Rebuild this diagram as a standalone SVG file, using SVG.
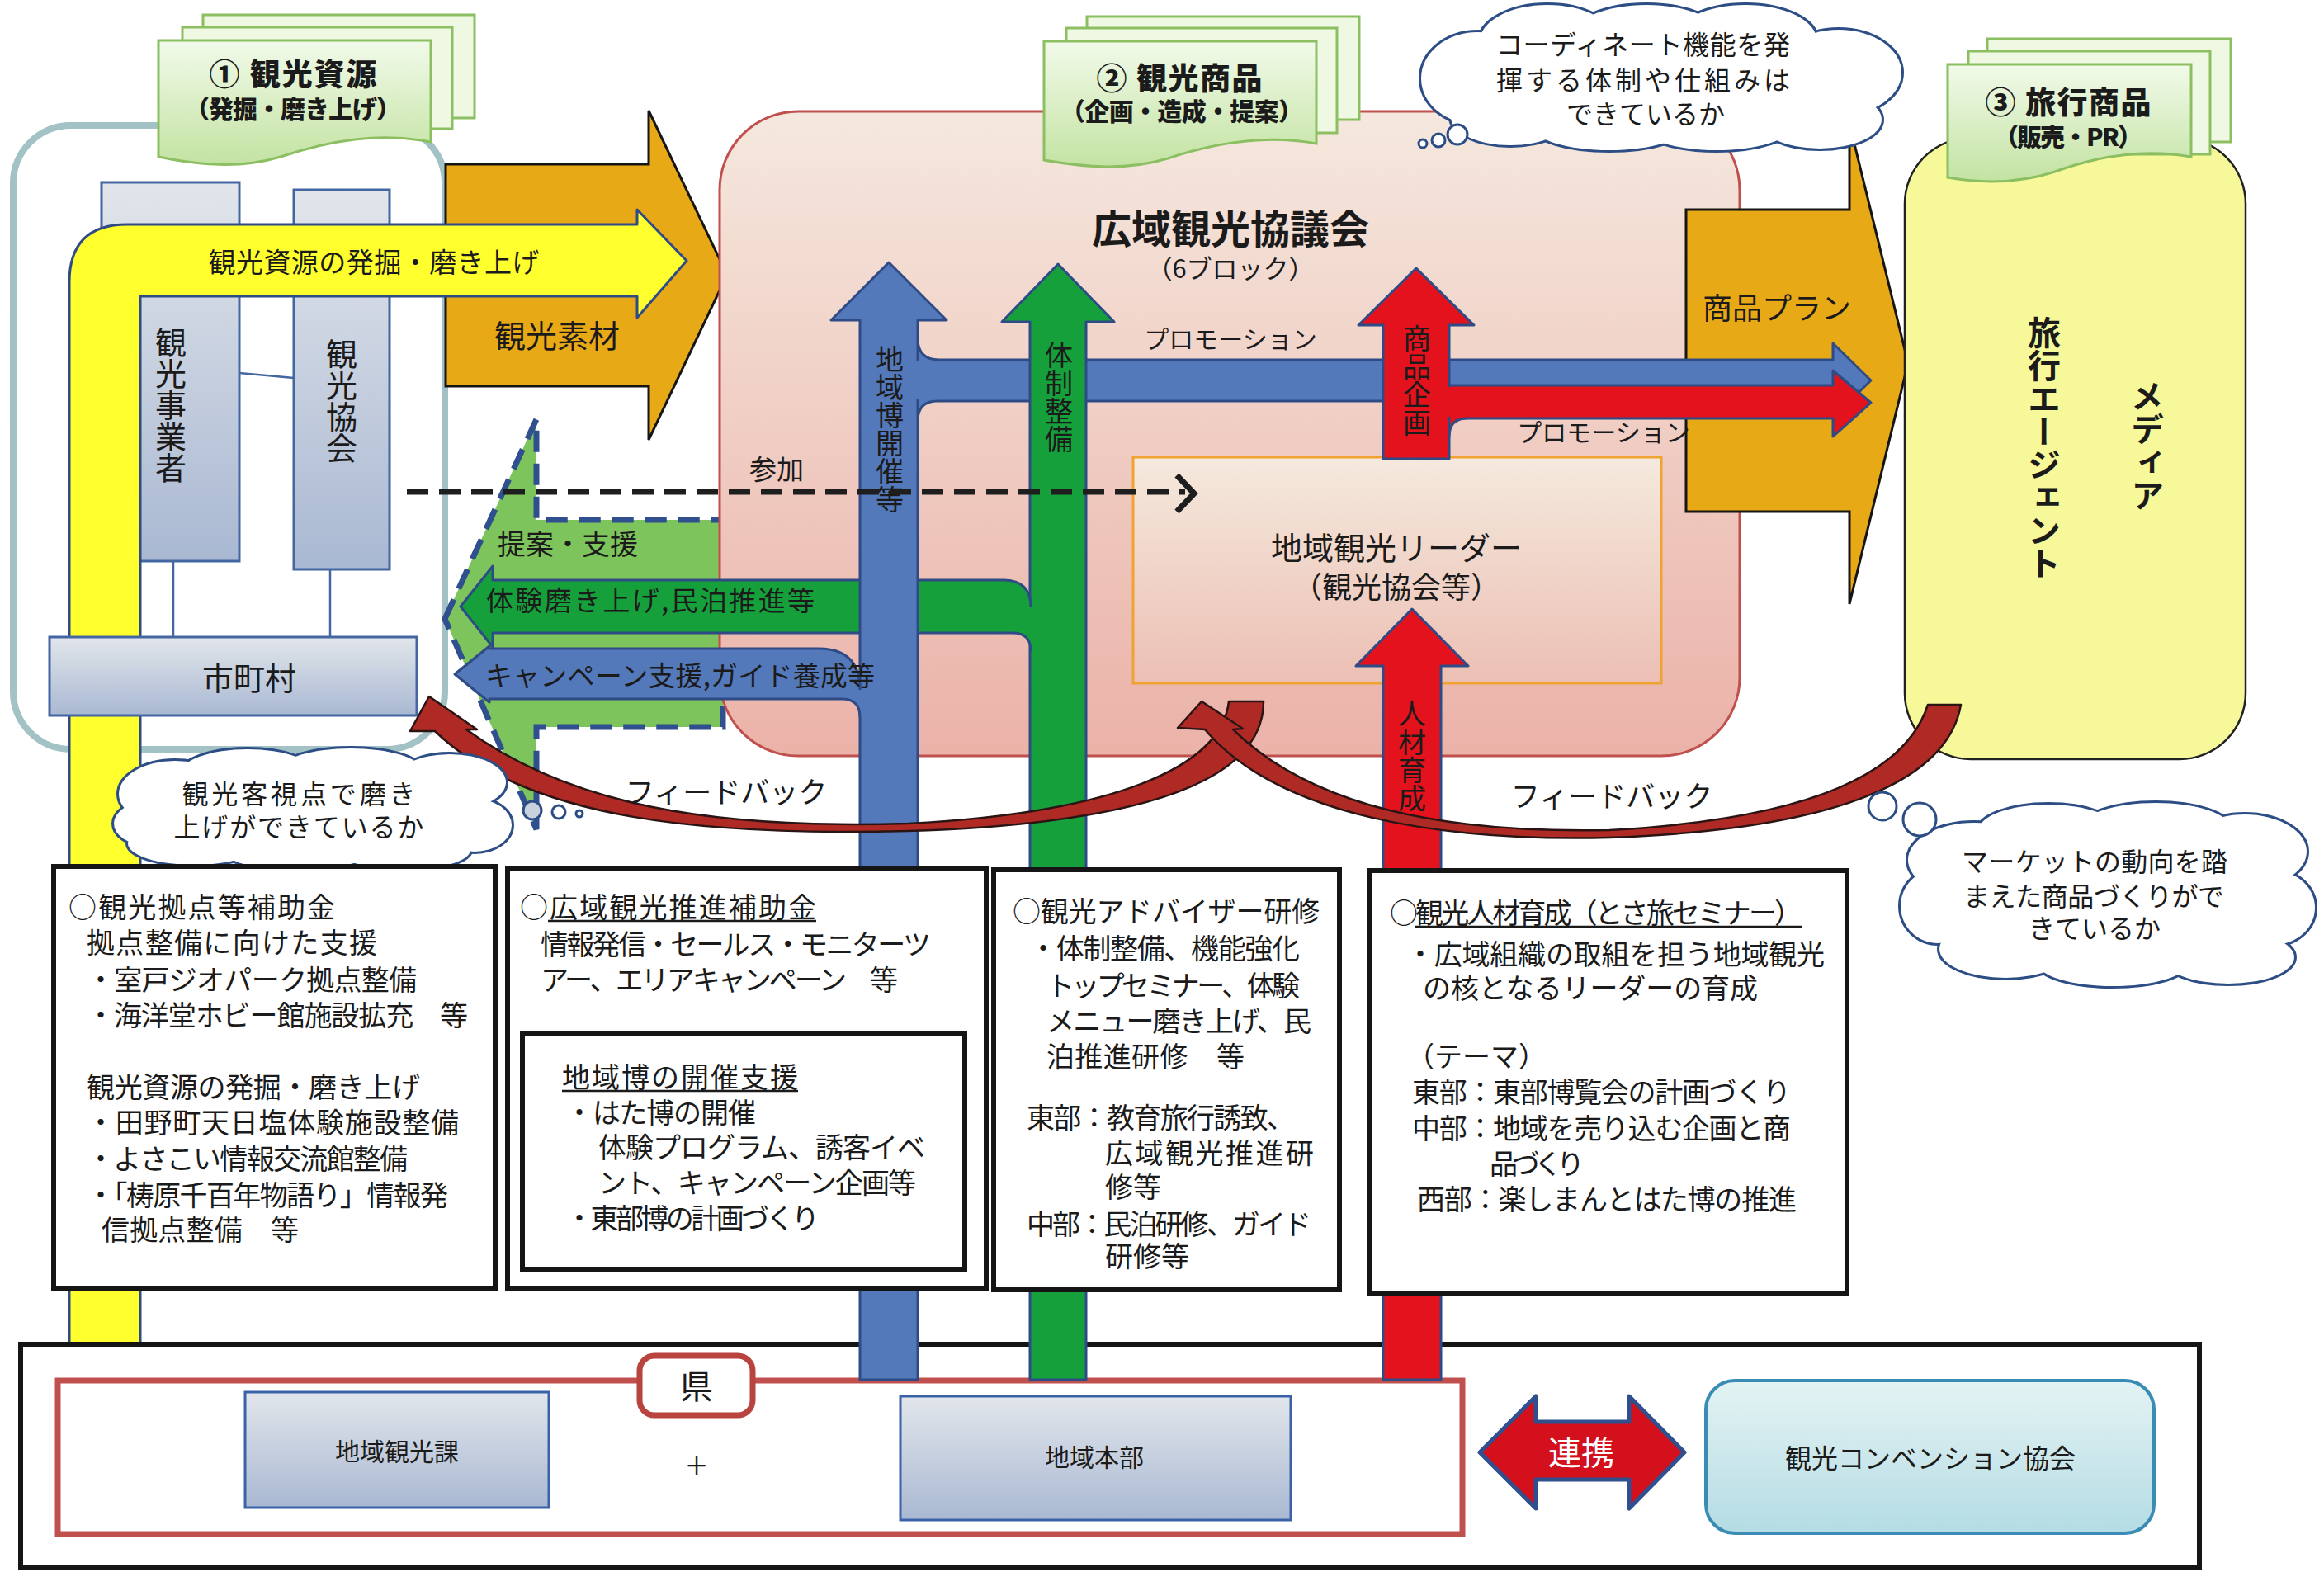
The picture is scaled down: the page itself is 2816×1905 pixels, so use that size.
<svg xmlns="http://www.w3.org/2000/svg" width="2816" height="1905" viewBox="0 0 2816 1905">
<defs>
<linearGradient id="gGray" x1="0" y1="0" x2="0" y2="1"><stop offset="0" stop-color="#e2e6eb"/><stop offset="1" stop-color="#a9b8d2"/></linearGradient>
<linearGradient id="gPink" x1="0" y1="0" x2="0" y2="1"><stop offset="0" stop-color="#f5e8de"/><stop offset="1" stop-color="#ebb2a8"/></linearGradient>
<linearGradient id="gLeader" x1="0" y1="0" x2="0" y2="1"><stop offset="0" stop-color="#f5e9dd"/><stop offset="1" stop-color="#ecbfb4"/></linearGradient>
<linearGradient id="gTab" x1="0" y1="0" x2="0" y2="1"><stop offset="0" stop-color="#f2faea"/><stop offset="1" stop-color="#c3e3a2"/></linearGradient>
<linearGradient id="gConv" x1="0" y1="0" x2="0" y2="1"><stop offset="0" stop-color="#e4f3f3"/><stop offset="1" stop-color="#b4dce4"/></linearGradient>
<g id="cloudA">
<ellipse cx="1790" cy="95" rx="68" ry="56"/><ellipse cx="1875" cy="50" rx="82" ry="44"/><ellipse cx="1995" cy="44" rx="90" ry="38"/><ellipse cx="2115" cy="48" rx="86" ry="42"/><ellipse cx="2228" cy="88" rx="76" ry="52"/><ellipse cx="2205" cy="145" rx="75" ry="35"/><ellipse cx="2080" cy="152" rx="92" ry="30"/><ellipse cx="1950" cy="154" rx="92" ry="28"/><ellipse cx="1830" cy="142" rx="72" ry="34"/><ellipse cx="2010" cy="97" rx="245" ry="68"/>
</g>
<g id="cloudB">
<ellipse cx="212" cy="962" rx="68" ry="40"/><ellipse cx="300" cy="938" rx="82" ry="30"/><ellipse cx="425" cy="933" rx="85" ry="26"/><ellipse cx="545" cy="948" rx="68" ry="34"/><ellipse cx="575" cy="1000" rx="45" ry="32"/><ellipse cx="490" cy="1030" rx="80" ry="24"/><ellipse cx="360" cy="1034" rx="85" ry="20"/><ellipse cx="235" cy="1022" rx="80" ry="26"/><ellipse cx="178" cy="998" rx="40" ry="26"/><ellipse cx="380" cy="983" rx="215" ry="52"/>
</g>
<g id="cloudC">
<ellipse cx="2392" cy="1042" rx="80" ry="45"/><ellipse cx="2482" cy="1007" rx="85" ry="32"/><ellipse cx="2612" cy="1003" rx="90" ry="30"/><ellipse cx="2720" cy="1032" rx="75" ry="45"/><ellipse cx="2755" cy="1100" rx="50" ry="45"/><ellipse cx="2700" cy="1160" rx="80" ry="32"/><ellipse cx="2560" cy="1168" rx="90" ry="27"/><ellipse cx="2430" cy="1150" rx="80" ry="35"/><ellipse cx="2348" cy="1098" rx="45" ry="45"/><ellipse cx="2555" cy="1085" rx="225" ry="80"/>
</g>
</defs>
<style>
text { font-family: "Noto Sans CJK JP", "Noto Sans CJK SC", sans-serif; fill: #1b1b1b; }
.c { text-anchor: middle; dominant-baseline: central; }
.l { dominant-baseline: central; font-size: 34px; }
.v { writing-mode: vertical-rl; text-anchor: middle; }
.b { font-weight: 700; }
.k { font-weight: 900; }
.sheet { fill: #eef8e2; stroke: #8cbf62; stroke-width: 3; }
.front { fill: url(#gTab); stroke: #8cbf62; stroke-width: 3; }
.as { stroke: #2f4b86; stroke-width: 3; stroke-linejoin: round; }
.box { fill: #fff; stroke: #151515; stroke-width: 6; }
.fb { fill: #b02a25; stroke: #2a1414; stroke-width: 2.5; stroke-linejoin: round; }
.bub { fill: #fff; stroke: #2d4d85; stroke-width: 3; }
.ul { stroke: #1b1b1b; stroke-width: 2.5; }
.gr { fill: url(#gGray); stroke: #4467a3; stroke-width: 3; }
</style>
<rect width="2816" height="1905" fill="#fff"/>

<!-- Left area -->
<g id="node-left-area">
<rect x="16" y="152" width="523" height="756" rx="70" fill="#fff" stroke="#a3c2c6" stroke-width="8"/>
</g>
<g id="edge-sozai">
<path d="M540,199 H786 V134 L881,333 L786,533 V468 H540 Z" fill="#e8a917" stroke="#151515" stroke-width="3" stroke-linejoin="miter"/>
<text class="c" x="675" y="404" font-size="38">観光素材</text>
</g>
<g id="node-jigyosha">
<rect class="gr" x="123" y="221" width="167" height="459"/>
<text class="v" x="207" y="491" font-size="38">観光事業者</text>
</g>
<g id="node-kyokai">
<rect class="gr" x="356" y="230" width="116" height="460"/>
<text class="v" x="414" y="486" font-size="38">観光協会</text>
</g>
<path d="M290,452 L356,458 M210,680 V772 M400,690 V772" stroke="#4467a3" stroke-width="2.5" fill="none"/>

<g id="edge-yellow">
<path d="M84,1663 V342 Q84,272 154,272 H772 V254 L832,316 L772,385 V359 H170 V1663 Z" fill="#ffff2e" class="as"/>
<text class="c" x="453" y="316" font-size="33" textLength="401">観光資源の発掘・磨き上げ</text>
</g>

<g id="node-shichoson">
<rect class="gr" x="60" y="772" width="445" height="95"/>
<text class="c" x="302" y="819" font-size="38">市町村</text>
</g>

<g id="node-tab1">
<rect class="sheet" x="246" y="18" width="329" height="125"/>
<rect class="sheet" x="221" y="33" width="327" height="123"/>
<path class="front" d="M192,49 H522 V172 C460,160 400,170 340,190 C290,205 240,200 192,190 Z"/>
<text class="c k" x="355" y="88" font-size="37" textLength="203">① 観光資源</text>
<text class="c k" x="355" y="130" font-size="30" textLength="262">（発掘・磨き上げ）</text>
</g>

<g id="edge-teian">
<path d="M539,750 L650,508 V630 H876 V881 H650 V1005 Z" fill="#7ec45c" stroke="#2f4f8f" stroke-width="7" stroke-dasharray="26 14"/>
</g>

<!-- Council -->
<g id="node-council">
<rect x="872" y="135" width="1236" height="781" rx="95" fill="url(#gPink)" stroke="#c0504d" stroke-width="3"/>
<text class="c b" x="1491" y="274" font-size="48">広域観光協議会</text>
<text class="c" x="1491" y="323" font-size="31">（6ブロック）</text>
</g>
<text class="c" x="688" y="657" font-size="34">提案・支援</text>

<g id="node-tab2">
<rect class="sheet" x="1317" y="20" width="330" height="125"/>
<rect class="sheet" x="1292" y="34" width="328" height="127"/>
<path class="front" d="M1265,50 H1595 V174 C1535,163 1475,172 1415,192 C1365,207 1315,203 1265,194 Z"/>
<text class="c k" x="1429" y="93" font-size="37" textLength="201">② 観光商品</text>
<text class="c k" x="1432" y="133" font-size="30" textLength="294">（企画・造成・提案）</text>
</g>

<g id="node-leader">
<rect x="1373" y="554" width="640" height="274" fill="url(#gLeader)" stroke="#f0a232" stroke-width="3"/>
<text class="c" x="1692" y="661" font-size="38">地域観光リーダー</text>
<text class="c" x="1692" y="709" font-size="36">（観光協会等）</text>
</g>

<g id="edge-plan">
<path d="M2043,254 H2241 V150 L2312,440 L2241,732 V620 H2043 Z" fill="#e8a917" stroke="#151515" stroke-width="3"/>
<text class="c" x="2153" y="371" font-size="36">商品プラン</text>
</g>

<g id="node-agent">
<rect x="2308" y="167" width="413" height="753" rx="80" fill="#f6f89a" stroke="#222" stroke-width="2.5"/>
<text class="v b" x="2477" y="543" font-size="40">旅行エージェント</text>
<text class="v b" x="2602" y="540" font-size="40">メディア</text>
</g>

<g id="node-tab3">
<rect class="sheet" x="2408" y="47" width="295" height="125"/>
<rect class="sheet" x="2385" y="62" width="293" height="125"/>
<path class="front" d="M2360,78 H2655 V190 C2600,180 2545,188 2490,208 C2445,223 2400,222 2360,215 Z"/>
<text class="c k" x="2506" y="122" font-size="37" textLength="201">③ 旅行商品</text>
<text class="c k" x="2506" y="164" font-size="30" textLength="180">（販売・PR）</text>
</g>

<g id="node-cloud-top">
<use href="#cloudA" fill="none" stroke="#2d4d85" stroke-width="6"/>
<use href="#cloudA" fill="#fff" stroke="none"/>
<circle class="bub" cx="1724" cy="174" r="5"/><circle class="bub" cx="1743" cy="170" r="8"/><circle class="bub" cx="1766" cy="163" r="12"/>
<text class="c" x="1991" y="52" font-size="32" textLength="356">コーディネート機能を発</text>
<text class="c" x="1991" y="95" font-size="32" textLength="356">揮する体制や仕組みは</text>
<text class="c" x="1994" y="136" font-size="32">できているか</text>
</g>

<!-- Bottom: prefecture -->
<g id="node-ken">
<rect x="25" y="1629" width="2640" height="271" fill="#fff" stroke="#151515" stroke-width="6"/>
<rect x="70" y="1673" width="1702" height="186" fill="#fff" stroke="#c0504d" stroke-width="7"/>
<rect x="775" y="1643" width="137" height="72" rx="18" fill="#fff" stroke="#b8433f" stroke-width="7"/>
<text class="c" x="844" y="1678" font-size="40">県</text>
<text class="c" x="844" y="1773" font-size="46" font-weight="300">+</text>
</g>
<g id="node-kankoka">
<rect x="297" y="1687" width="368" height="140" fill="url(#gGray)" stroke="#3a62a8" stroke-width="3"/>
<text class="c" x="481" y="1757" font-size="30">地域観光課</text>
</g>
<g id="node-honbu">
<rect x="1091" y="1692" width="473" height="150" fill="url(#gGray)" stroke="#3a62a8" stroke-width="3"/>
<text class="c" x="1326" y="1764" font-size="30">地域本部</text>
</g>
<g id="edge-renkei">
<path d="M1793,1760 L1861,1692 V1723 H1974 V1692 L2041,1760 L1974,1828 V1793 H1861 V1828 Z" fill="#d4101c" stroke="#2f4f8f" stroke-width="5" stroke-linejoin="round"/>
<text class="c" x="1916" y="1758" font-size="40" style="fill:#fff">連携</text>
</g>
<g id="node-convention">
<rect x="2067" y="1673" width="543" height="185" rx="35" fill="url(#gConv)" stroke="#3a8cb4" stroke-width="4"/>
<text class="c" x="2339" y="1765" font-size="32">観光コンベンション協会</text>
</g>

<!-- Connectors -->
<g id="connectors">
<path d="M1100,410 H1112 Q1112,436 1138,436 H2221 V416 L2267,461 L2221,506 V486 H1136 Q1112,486 1112,510 H1100 Z" fill="#5479bb" class="as"/>
<path d="M1745,467 H2221 V449 L2267,488 L2221,529 V507 H1778 Q1756,507 1756,529 H1745 Z" fill="#e3121c" class="as"/>
<path d="M1248,1672 V390 H1214 L1282,320 L1350,390 H1316 V1672 Z" fill="#15a03c" class="as"/>
<path d="M597,686 L558,735 L597,784 V767 H1227 Q1249,767 1249,789 H1256 V736 H1249 Q1249,703 1216,703 H597 Z" fill="#15a03c"/>
<path d="M1249,789 Q1249,767 1227,767 H597 V784 L558,735 L597,686 V703 H1216 Q1249,703 1249,736" fill="none" class="as"/>
<path d="M1042,1672 V388 H1007 L1077,318 L1147,388 H1112 V1672 Z" fill="#5479bb" class="as"/>
<rect x="1108" y="438" width="10" height="46" fill="#5479bb"/>
<path d="M593,783 L551,817 L593,851 V847 H1020 Q1042,847 1042,869 H1050 V836 H1042 Q1042,786 992,786 H593 Z" fill="#5479bb"/>
<path d="M1042,869 Q1042,847 1020,847 H593 V851 L551,817 L593,783 V786 H992 Q1042,786 1042,836" fill="none" class="as"/>
<path d="M1676,556 V394 H1646 L1716,325 L1786,394 H1756 V556 Z" fill="#e3121c" class="as"/>
<rect x="1752" y="469" width="10" height="36" fill="#e3121c"/>
<path d="M1676,1672 V807 H1643 L1711,738 L1779,807 H1746 V1672 Z" fill="#e3121c" class="as"/>

<text class="c" x="1491" y="409" font-size="30">プロモーション</text>
<text class="c" x="1943" y="522" font-size="30">プロモーション</text>
<text class="c" x="788" y="726" font-size="33" textLength="398">体験磨き上げ,民泊推進等</text>
<text class="c" x="824" y="817" font-size="33" textLength="472">キャンペーン支援,ガイド養成等</text>
<text class="v" x="1078" y="520" font-size="34">地域博開催等</text>
<text class="v" x="1283" y="481" font-size="34">体制整備</text>
<text class="v" x="1717" y="461" font-size="34">商品企画</text>
<text class="v" x="1711" y="916" font-size="34">人材育成</text>

<path d="M493,596 H1436" stroke="#1e1e1e" stroke-width="7" stroke-dasharray="26 13" fill="none"/>
<path d="M1426,576 L1447,598 L1426,620" stroke="#1e1e1e" stroke-width="7" fill="none"/>
<text class="c" x="941" y="567" font-size="33">参加</text>

<path class="fb" d="M1489,850 C1480,930 1350,985 1100,998 C860,1005 690,975 565,884 L578,884 L520,844 L497,886 L527,886 C640,995 860,1013 1100,1007 C1390,998 1531,945 1531,850 Z"/>
<path class="fb" d="M2336,854 C2310,935 2200,992 1950,1006 C1750,1010 1590,978 1494,884 L1506,883 L1456,850 L1427,882 L1460,884 C1550,990 1750,1020 1950,1015 C2230,1005 2360,945 2376,854 Z"/>
<text class="c" x="880" y="957" font-size="35">フィードバック</text>
<text class="c" x="1953" y="962" font-size="35">フィードバック</text>
</g>

<g id="node-cloud-left">
<use href="#cloudB" fill="none" stroke="#2d4d85" stroke-width="6"/>
<use href="#cloudB" fill="#fff" stroke="none"/>
<circle class="bub" cx="645" cy="982" r="11" style="fill:#c9d1dd"/><circle class="bub" cx="677" cy="984" r="8"/><circle class="bub" cx="702" cy="986" r="4"/>
<text class="c" x="362" y="960" font-size="32" textLength="283">観光客視点で磨き</text>
<text class="c" x="362" y="1000" font-size="32" textLength="303">上げができているか</text>
</g>

<g id="node-cloud-right">
<use href="#cloudC" fill="none" stroke="#2d4d85" stroke-width="6"/>
<use href="#cloudC" fill="#fff" stroke="none"/>
<circle class="bub" cx="2281" cy="977" r="17"/><circle class="bub" cx="2326" cy="993" r="20"/>
<text class="c" x="2538" y="1042" font-size="32" textLength="322">マーケットの動向を踏</text>
<text class="c" x="2537" y="1084" font-size="32" textLength="316">まえた商品づくりがで</text>
<text class="c" x="2538" y="1123" font-size="32">きているか</text>
</g>

<!-- Text boxes -->
<g id="node-box1">
<rect class="box" x="65" y="1050" width="535" height="512"/>
<text class="l" x="83" y="1097" textLength="323">○観光拠点等補助金</text>
<text class="l" x="105" y="1140" textLength="352">拠点整備に向けた支援</text>
<text class="l" x="105" y="1185" textLength="400">・室戸ジオパーク拠点整備</text>
<text class="l" x="105" y="1228" textLength="462">・海洋堂ホビー館施設拡充　等</text>
<text class="l" x="105" y="1315" textLength="404">観光資源の発掘・磨き上げ</text>
<text class="l" x="105" y="1358" textLength="451">・田野町天日塩体験施設整備</text>
<text class="l" x="105" y="1402" textLength="389">・よさこい情報交流館整備</text>
<text class="l" x="105" y="1446" textLength="438">・「梼原千百年物語り」情報発</text>
<text class="l" x="123" y="1488" textLength="239">信拠点整備　等</text>
</g>
<g id="node-box2">
<rect class="box" x="615" y="1052" width="580" height="510"/>
<text class="l" x="630" y="1097" textLength="359">○広域観光推進補助金</text>
<line class="ul" x1="664" y1="1116" x2="989" y2="1116"/>
<text class="l" x="655" y="1142" textLength="473">情報発信・セールス・モニターツ</text>
<text class="l" x="655" y="1185" textLength="433">アー、エリアキャンペーン　等</text>
<rect class="box" x="633" y="1253" width="536" height="285"/>
<text class="l" x="681" y="1303" textLength="286">地域博の開催支援</text>
<line class="ul" x1="681" y1="1322" x2="967" y2="1322"/>
<text class="l" x="685" y="1346" textLength="231">・はた博の開催</text>
<text class="l" x="725" y="1388" textLength="396">体験プログラム、誘客イベ</text>
<text class="l" x="725" y="1431" textLength="385">ント、キャンペーン企画等</text>
<text class="l" x="685" y="1474" textLength="308">・東部博の計画づくり</text>
</g>
<g id="node-box3">
<rect class="box" x="1204" y="1054" width="419" height="509"/>
<text class="l" x="1227" y="1102" textLength="372">○観光アドバイザー研修</text>
<text class="l" x="1247" y="1147" textLength="328">・体制整備、機能強化</text>
<text class="l" x="1268" y="1192" textLength="307">トップセミナー、体験</text>
<text class="l" x="1268" y="1235" textLength="321">メニュー磨き上げ、民</text>
<text class="l" x="1268" y="1278" textLength="240">泊推進研修　等</text>
<text class="l" x="1244" y="1352" textLength="325">東部：教育旅行誘致、</text>
<text class="l" x="1339" y="1395" textLength="253">広域観光推進研</text>
<text class="l" x="1339" y="1436">修等</text>
<text class="l" x="1244" y="1481" textLength="345">中部：民泊研修、ガイド</text>
<text class="l" x="1339" y="1520">研修等</text>
</g>
<g id="node-box4">
<rect class="box" x="1660" y="1055" width="578" height="512"/>
<text class="l" x="1684" y="1104" textLength="500">○観光人材育成（とさ旅セミナー）</text>
<line class="ul" x1="1714" y1="1123" x2="2184" y2="1123"/>
<text class="l" x="1704" y="1154" textLength="507">・広域組織の取組を担う地域観光</text>
<text class="l" x="1724" y="1195" textLength="406">の核となるリーダーの育成</text>
<text class="l" x="1704" y="1278">（テーマ）</text>
<text class="l" x="1711" y="1321" textLength="459">東部：東部博覧会の計画づくり</text>
<text class="l" x="1711" y="1365" textLength="459">中部：地域を売り込む企画と商</text>
<text class="l" x="1805" y="1408" textLength="115">品づくり</text>
<text class="l" x="1717" y="1451" textLength="460">西部：楽しまんとはた博の推進</text>
</g>
</svg>
